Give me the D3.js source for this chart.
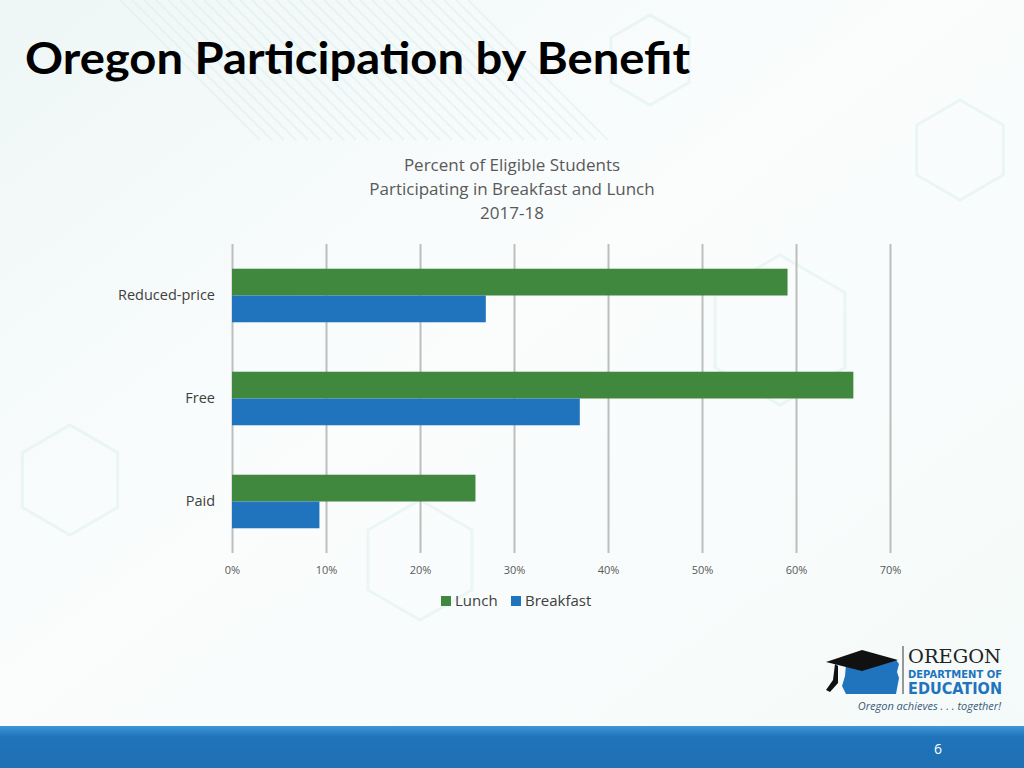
<!DOCTYPE html>
<html><head><meta charset="utf-8">
<script src="https://cdn.jsdelivr.net/npm/d3@7"></script>
<style>html,body{margin:0;padding:0;background:#fff;}svg{display:block;}</style>
</head><body>
<svg id="c" width="1024" height="768"></svg>
<script>
const categories = ["Reduced-price", "Free", "Paid"];
const seriesNames = ["Lunch", "Breakfast"];
const lunch = [59.1, 66.1, 25.9];
const breakfast = [27.0, 37.0, 9.3];
const xTicks = [0, 10, 20, 30, 40, 50, 60, 70];
const colors = ["#41883f", "#1f74bd"];
const chartTitle = ["Percent of Eligible Students", "Participating in Breakfast and Lunch", "2017-18"];

const svg = d3.select("#c");
const font = "'Open Sans', 'Liberation Sans', sans-serif";

// background
const defs = svg.append("defs");
const bg = defs.append("linearGradient").attr("id","bg").attr("x1",0).attr("y1",0).attr("x2",1).attr("y2",1);
bg.append("stop").attr("offset","0%").attr("stop-color","#eef7f6");
bg.append("stop").attr("offset","45%").attr("stop-color","#fbfdfd");
bg.append("stop").attr("offset","100%").attr("stop-color","#f4faf9");
svg.append("rect").attr("width",1024).attr("height",768).attr("fill","url(#bg)");
// faint diagonal stripes in the upper area
const deco = svg.append("g").attr("stroke","#dcefef").attr("stroke-width",2).attr("opacity",0.5);
for (let i = 0; i < 30; i++) {
  deco.append("line").attr("x1", 120 + i*12).attr("y1", 0).attr("x2", 260 + i*12).attr("y2", 140);
}
const hex = svg.append("g").attr("fill","none").attr("stroke","#d8eeec").attr("stroke-width",3).attr("opacity",0.45);
function hexPath(cx, cy, r){ return d3.range(6).map(k=>{const a=Math.PI/3*k+Math.PI/6;return [cx+r*Math.cos(a), cy+r*Math.sin(a)];}); }
[[780,330,75],[420,560,60],[960,150,50],[70,480,55],[650,60,45]].forEach(h=>{
  hex.append("path").attr("d", d3.line()(hexPath(...h)) + "Z");
});

// title
svg.append("text").attr("x",25).attr("y",74).attr("font-family","Lato, 'Open Sans', sans-serif")
  .attr("font-weight",700).attr("font-size",43).attr("fill","#000")
  .attr("textLength",665).attr("lengthAdjust","spacingAndGlyphs")
  .text("Oregon Participation by Benefit");

// chart title
svg.append("g").selectAll("text").data(chartTitle).join("text")
  .attr("x",512).attr("y",(d,i)=>171 + i*24).attr("text-anchor","middle")
  .attr("font-family",font).attr("font-size",17).attr("fill","#595959").text(d=>d);

// scales
const x = d3.scaleLinear().domain([0,70]).range([232,890]);
const y = d3.scaleBand().domain(categories).range([244,553]).paddingInner(0.48).paddingOuter(0.24);
const ys = d3.scaleBand().domain(seriesNames).range([0, y.bandwidth()]);

// gridlines
const xAxis = d3.axisBottom(x).tickValues(xTicks).tickFormat(d=>d+"%").tickSize(-(553-244)).tickSizeOuter(0);
const gx = svg.append("g").attr("transform","translate(0,553)").call(xAxis);
gx.select(".domain").remove();
gx.selectAll(".tick line").attr("stroke","#bdbdbd").attr("stroke-width",2);
gx.selectAll(".tick text").attr("font-family",font).attr("font-size",11).attr("fill","#595959").attr("dy","1.6em");

// bars
const data = categories.map((c,i)=>({cat:c, vals:[lunch[i], breakfast[i]]}));
const grp = svg.append("g").selectAll("g").data(data).join("g").attr("transform",d=>`translate(0,${y(d.cat)})`);
grp.selectAll("rect").data(d=>d.vals.map((v,j)=>({s:seriesNames[j], v, j}))).join("rect")
  .attr("x",x(0)).attr("y",d=>ys(d.s)).attr("width",d=>x(d.v)-x(0)).attr("height",ys.bandwidth())
  .attr("fill",d=>colors[d.j]);

// category labels
const yAxis = d3.axisLeft(y).tickSize(0).tickPadding(17);
const gy = svg.append("g").attr("transform",`translate(${x(0)},0)`).call(yAxis);
gy.select(".domain").remove();
gy.selectAll(".tick text").attr("font-family",font).attr("font-size",14.5).attr("fill","#404040");

// legend
const legend = svg.append("g").attr("transform","translate(441,596)");
const litems = [{n:"Lunch",x:0},{n:"Breakfast",x:70}];
litems.forEach((it,i)=>{
  legend.append("rect").attr("x",it.x).attr("y",0).attr("width",10).attr("height",10).attr("fill",colors[i]);
  legend.append("text").attr("x",it.x+14).attr("y",10).attr("font-family",font).attr("font-size",15).attr("fill","#404040").text(it.n);
});

// bottom bar
const bb = defs.append("linearGradient").attr("id","bb").attr("x1",0).attr("y1",0).attr("x2",0).attr("y2",1);
bb.append("stop").attr("offset","0%").attr("stop-color","#3d97d8");
bb.append("stop").attr("offset","25%").attr("stop-color","#2174ba");
bb.append("stop").attr("offset","100%").attr("stop-color","#1e6fb3");
svg.append("rect").attr("x",0).attr("y",726).attr("width",1024).attr("height",42).attr("fill","url(#bb)");
svg.append("text").attr("x",938).attr("y",754).attr("text-anchor","middle").attr("font-family",font)
  .attr("font-size",14).attr("fill","#fff").text("6");

// logo
const logo = svg.append("g");
logo.append("path").attr("d","M846,664 L852,660 L896,660 L899,664 L897,672 L899,678 L896,694 L846,694 L842,686 L845,676 Z").attr("fill","#1f74bd");
logo.append("path").attr("d","M826,662 L862,650 L898,660 L862,671 Z").attr("fill","#111");
logo.append("path").attr("d","M835,664 L833,680 L826,690 L830,692 L838,683 L838,666 Z").attr("fill","#111");
logo.append("line").attr("x1",903).attr("y1",646).attr("x2",903).attr("y2",694).attr("stroke","#777").attr("stroke-width",1.5);
logo.append("text").attr("x",908).attr("y",663).attr("font-family","'DejaVu Serif', 'Liberation Serif', serif")
  .attr("font-size",19).attr("fill","#222").attr("textLength",93).attr("lengthAdjust","spacingAndGlyphs").text("OREGON");
logo.append("text").attr("x",908).attr("y",678).attr("font-family","'DejaVu Sans', sans-serif").attr("font-weight",700)
  .attr("font-size",11).attr("fill","#1f74bd").attr("textLength",94).attr("lengthAdjust","spacingAndGlyphs").text("DEPARTMENT OF");
logo.append("text").attr("x",908).attr("y",694).attr("font-family","'DejaVu Sans', sans-serif").attr("font-weight",700)
  .attr("font-size",16).attr("fill","#1f74bd").attr("textLength",94).attr("lengthAdjust","spacingAndGlyphs").text("EDUCATION");
logo.append("text").attr("x",1001).attr("y",710).attr("text-anchor","end").attr("font-family",font).attr("font-style","italic")
  .attr("font-size",11).attr("fill","#3a5a78").text("Oregon achieves . . . together!");
</script>
</body></html>
